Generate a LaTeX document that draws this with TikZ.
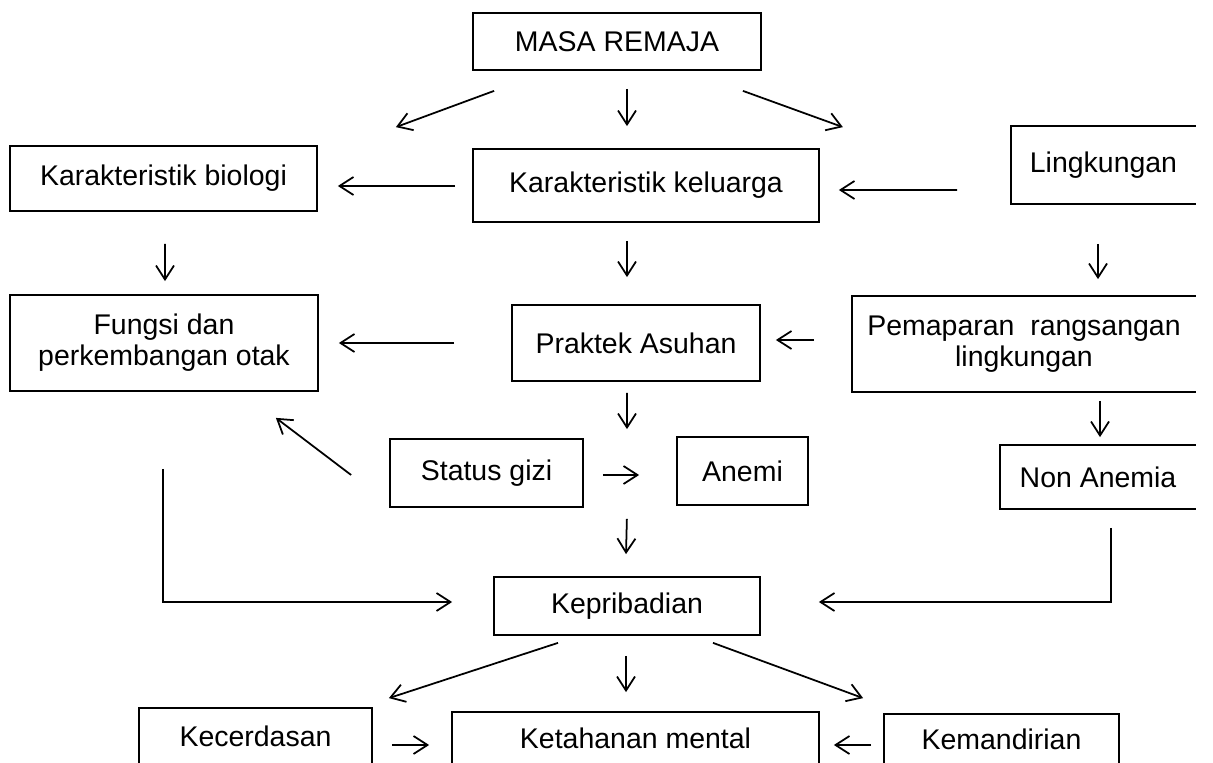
\documentclass[tikz,border=0pt]{standalone}
\usepackage{fontspec}
\setmainfont{Liberation Sans}
\usepackage{tikz}
\usetikzlibrary{calc,arrows.meta}

\begin{document}
\begin{tikzpicture}[x=0.02cm, y=-0.02cm, line width=1pt,
    every node/.style={font=\fontsize{16.2}{17.5}\selectfont, inner sep=0pt},
    box/.style 2 args={draw, rectangle, minimum width=#1*0.02cm, minimum height=#2*0.02cm},
    openbox/.style 2 args={rectangle, minimum width=#1*0.02cm, minimum height=#2*0.02cm},
    arr/.style={-{Straight Barb[length=0.28cm, width=0.36cm]}}]
    \useasboundingbox (0,0) rectangle (1213,763);

    % top row
    \node[box={288}{57}] (masa) at (617,41.5) {MASA REMAJA};
    \node[box={307}{65}] (bio) at (163.5,178.5) {Karakteristik biologi};
    \node[box={346}{73}] (kel) at (646,185.5) {Karakteristik keluarga};
    \node[openbox={183}{76}] (ling) at (1103.5,165) {Lingkungan};

    % second row
    \node[box={308}{96}, align=center] (fungsi) at (164,343) {Fungsi dan\\perkembangan otak};
    \node[box={248}{76}] (prak) at (636,343) {Praktek Asuhan};
    \node[openbox={342}{94}, align=center] (pap) at (1024,344) {Pemaparan\ \ rangsangan\\lingkungan};

    % status gizi row
    \node[box={193}{68}] (stat) at (486.5,473) {Status gizi};
    \node[box={131}{68}] (anemi) at (742.5,471) {Anemi};
    \node[openbox={194}{62}] (non) at (1098,477) {Non Anemia};

    \node[box={266}{58}] (kep) at (627,606) {Kepribadian};

    % bottom row (cut off at the bottom)
    \node[openbox={231}{54}] (cer) at (255.5,736) {Kecerdasan};
    \node[openbox={365}{50}] (tah) at (635.5,738) {Ketahanan mental};
    \node[openbox={233}{48}] (man) at (1001.5,739) {Kemandirian};

    \foreach \n in {ling,pap,non}
        \draw (\n.north east) -- (\n.north west) -- (\n.south west) -- (\n.south east); % right side open
    \foreach \n in {cer,tah,man}
        \draw (\n.south west) -- (\n.north west) -- (\n.north east) -- (\n.south east); % bottom open

    \draw[arr] ($(masa.south west)+(22,20)$) -- ($(bio.north east)+(78,-18)$);
    \draw[arr] ($(masa.south)+(10,18)$) -- ($(kel.north)+(-19,-22)$);
    \draw[arr] ($(masa.south east)+(-19,20)$) -- ($(kel.north east)+(23,-21)$);
    \draw[arr] ($(kel.west)+(-17,0.5)$) -- ($(bio.east)+(20,7.5)$);
    \draw[arr] ($(ling.west)+(-54,25)$) -- ($(kel.east)+(19,4.5)$);

    \draw[arr] ($(bio.south)+(1.5,32)$) -- ($(fungsi.north)+(1,-13)$);
    \draw[arr] ($(kel.south)+(-19,18)$) -- ($(prak.north)+(-9,-27)$);
    \draw[arr] ($(ling.south)+(-5.5,40)$) -- ($(pap.north)+(74,-17)$);
    \draw[arr] ($(prak.west)+(-57,0)$) -- ($(fungsi.east)+(20,0)$);
    \draw[arr] ($(pap.west)+(-38,-4)$) -- ($(prak.east)+(15,-3)$);

    \draw[arr] ($(prak.south)+(-9,11)$) -- ($(stat.north)+(140.5,-9)$);
    \draw[arr] ($(pap.south)+(76,9)$) -- ($(non.north)+(2,-8)$);
    \draw[arr] ($(stat.west)+(-38,2)$) -- ($(fungsi.south east)+(-43,26)$);
    \draw[arr] ($(stat.east)+(19,2)$) -- ($(anemi.west)+(-37,4)$);
    \draw[arr] ($(stat.south east)+(43,11)$) -- ($(kep.north)+(-1,-22)$);

    \draw[arr] ($(fungsi.south)+(-1,77)$) |- ($(kep.west)+(-41,-4)$);
    \draw[arr] ($(non.south)+(13,19)$) |- ($(kep.east)+(58,-4)$);

    \draw[arr] ($(kep.south)+(-69,7)$) -- ($(cer.north east)+(17,-10)$);
    \draw[arr] ($(kep.south)+(-1,20)$) -- ($(tah.north)+(-9.5,-20)$);
    \draw[arr] ($(kep.south)+(86,7)$) -- ($(man.north west)+(-21,-16)$);
    \draw[arr] ($(cer.east)+(20,9)$) -- ($(tah.west)+(-23,7)$);
    \draw[arr] ($(man.west)+(-13,6)$) -- ($(tah.east)+(15,7)$);
\end{tikzpicture}
\end{document}
